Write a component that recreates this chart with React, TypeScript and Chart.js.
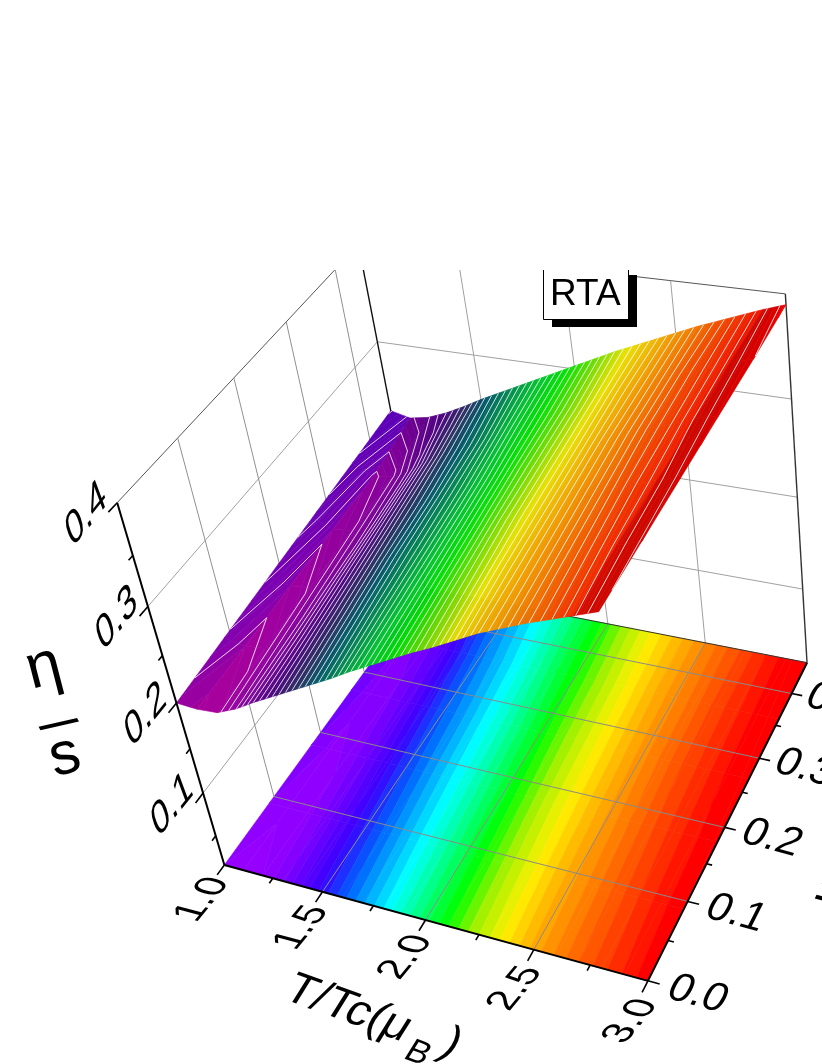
import React, { useEffect, useRef } from "react";
import { Chart, registerables } from "chart.js";

Chart.register(...registerables);

// ---------- data ----------
const tempGrid = [1.0, 1.1, 1.2, 1.3, 1.4, 1.5, 1.6, 1.7, 1.8, 1.9, 2.0, 2.1, 2.2, 2.3, 2.4, 2.5, 2.6, 2.7, 2.8, 2.9, 3.0];
const muGrid = [0, 0.09, 0.18, 0.27, 0.36, 0.45];
const etaMu0 = [0.2, 0.1985, 0.2, 0.209, 0.221, 0.232, 0.243, 0.254, 0.265, 0.277, 0.288, 0.299, 0.31, 0.32, 0.331, 0.342, 0.351, 0.36, 0.368, 0.376, 0.384];
const etaMu1 = [0.205, 0.2005, 0.203, 0.212, 0.224, 0.236, 0.247, 0.258, 0.269, 0.28, 0.291, 0.302, 0.313, 0.323, 0.334, 0.344, 0.353, 0.362, 0.37, 0.378, 0.385];
const etaMu2 = [0.21, 0.2035, 0.206, 0.215, 0.228, 0.24, 0.251, 0.262, 0.272, 0.283, 0.294, 0.305, 0.316, 0.326, 0.336, 0.346, 0.355, 0.364, 0.372, 0.379, 0.386];
const etaMu3 = [0.215, 0.2065, 0.209, 0.218, 0.232, 0.244, 0.254, 0.265, 0.275, 0.286, 0.297, 0.308, 0.318, 0.328, 0.338, 0.348, 0.357, 0.366, 0.373, 0.381, 0.387];
const etaMu4 = [0.22, 0.2085, 0.212, 0.222, 0.236, 0.248, 0.258, 0.268, 0.279, 0.29, 0.3, 0.31, 0.32, 0.33, 0.34, 0.349, 0.358, 0.367, 0.374, 0.382, 0.388];
const etaMu5 = [0.225, 0.22, 0.224, 0.232, 0.242, 0.253, 0.263, 0.273, 0.283, 0.293, 0.303, 0.313, 0.323, 0.332, 0.341, 0.35, 0.359, 0.367, 0.375, 0.383, 0.39];
const etaRows = [etaMu0, etaMu1, etaMu2, etaMu3, etaMu4, etaMu5];

const tempTicks = [1, 1.5, 2, 2.5, 3];
const tempMinor = [1.25, 1.75, 2.25, 2.75];
const muTicks = [0, 0.1, 0.2, 0.3, 0.4];
const muMinor = [0.05, 0.15, 0.25, 0.35];
const zTicks = [0.1, 0.2, 0.3, 0.4];
const zMinor = [0.05, 0.15, 0.25, 0.35];
const zFloor = 0.015;
const muTop = 0.45;
const boxTitle = "RTA";

// rainbow of the projected contour map, by eta/s
const floorStops: [number, string][] = [
  [0.19, "#a000ff"], [0.205, "#8c00ff"], [0.23, "#3c00ff"], [0.245, "#0060ff"], [0.268, "#00ffff"], [0.28, "#00ffa0"],
  [0.299, "#00ff00"], [0.312, "#a0f000"], [0.326, "#fff000"], [0.34, "#ffb000"], [0.356, "#ff7000"], [0.37, "#ff3800"], [0.382, "#ff0000"],
];
// shaded rainbow of the surface, by eta/s
const surfaceStops: [number, string][] = [
  [0.198, "#aa009c"], [0.205, "#9a00a0"], [0.215, "#7c0098"], [0.23, "#4c0080"], [0.245, "#2a2a60"], [0.258, "#005a68"], [0.27, "#00884f"],
  [0.285, "#00c030"], [0.3, "#00e000"], [0.315, "#70dc00"], [0.33, "#e8e000"], [0.345, "#f0a800"], [0.36, "#f07000"], [0.375, "#f03000"], [0.385, "#ee0a00"], [0.392, "#e80000"],
];
// the slope that faces the light next to T/Tc = 1
const risingEdgeStops: [number, string][] = [[0.198, "#a0009c"], [0.205, "#8000b0"], [0.215, "#6a00b4"], [0.225, "#5a00b8"]];
// the slope that falls away next to T/Tc = 3
const fallingEdgeStops: [number, string][] = [[0.37, "#e81800"], [0.376, "#d81000"], [0.384, "#cc0500"], [0.387, "#d80000"], [0.39, "#f00000"]];

// ---------- camera: where box points of the 3D frame land ----------
const calibration: number[][] = [
  [1, 0, zFloor, 227, 867], [1.5, 0, zFloor, 324, 893], [2, 0, zFloor, 427, 921], [2.5, 0, zFloor, 534, 951], [3, 0, zFloor, 648, 980],
  [3, 0.1, zFloor, 687, 902], [3, 0.2, zFloor, 724, 828], [3, 0.3, zFloor, 759, 759], [3, 0.4, zFloor, 790, 694], [3, 0.45, zFloor, 805, 663],
  [1, 0.1, zFloor, 277, 799], [1, 0.2, zFloor, 323, 735],
  [1, 0, 0.1, 202, 793], [1, 0, 0.2, 175, 698], [1, 0, 0.3, 147, 607], [1, 0, 0.4, 117, 508],
  [1, 0, 0.1, 202, 793], [1, 0, 0.2, 175, 698], [1, 0, 0.3, 147, 607],
  [1, 0, 0.2, 175, 698], [1, 0, 0.2, 175, 698],
  [3, 0.45, 0.2, 797, 493], [3, 0.45, 0.3, 792, 398], [3, 0.45, 0.4, 787, 296],
  [1, 0.45, 0.3, 377, 340], [2.5, 0.45, zFloor, 704, 643], [2, 0.45, zFloor, 608, 626],
  [1, 0.1, 0.4, 178, 442], [1, 0.2, 0.4, 233, 380], [1, 0.3, 0.4, 286, 323], [1, 0.4, 0.4, 335, 270],
  [2.5, 0.45, 0.4, 673, 283], [2.5, 0.45, 0.2, 690, 476], [1.5, 0.45, 0.3, 474, 353], [3, 0, 0.4, 598, 593],
];

function norm(T: number, mu: number, z: number) {
  return [(T - 1) / 2, mu / muTop, z / 0.4, 1];
}

function solveCamera(): number[] {
  const n = 11;
  const A = Array.from({ length: n }, () => new Array(n + 1).fill(0));
  const add = (row: number[], rhs: number) => {
    for (let i = 0; i < n; i++) {
      for (let j = 0; j < n; j++) A[i][j] += row[i] * row[j];
      A[i][n] += row[i] * rhs;
    }
  };
  for (const [T, mu, z, px, py] of calibration) {
    const p = norm(T, mu, z);
    const x = px / 1000, y = py / 1000;
    add([p[0], p[1], p[2], 1, 0, 0, 0, 0, -x * p[0], -x * p[1], -x * p[2]], x);
    add([0, 0, 0, 0, p[0], p[1], p[2], 1, -y * p[0], -y * p[1], -y * p[2]], y);
  }
  for (let c = 0; c < n; c++) {
    let piv = c;
    for (let r = c + 1; r < n; r++) if (Math.abs(A[r][c]) > Math.abs(A[piv][c])) piv = r;
    [A[c], A[piv]] = [A[piv], A[c]];
    for (let r = 0; r < n; r++) {
      if (r === c) continue;
      const f = A[r][c] / A[c][c];
      for (let k = c; k <= n; k++) A[r][k] -= f * A[c][k];
    }
  }
  return A.map((row, i) => row[n] / row[i]);
}
const cam = solveCamera();

function project(T: number, mu: number, z: number) {
  const p = norm(T, mu, z);
  const w = cam[8] * p[0] + cam[9] * p[1] + cam[10] * p[2] + 1;
  return {
    x: (1000 * (cam[0] * p[0] + cam[1] * p[1] + cam[2] * p[2] + cam[3])) / w,
    y: (1000 * (cam[4] * p[0] + cam[5] * p[1] + cam[6] * p[2] + cam[7])) / w,
  };
}

// ---------- helpers ----------
function hexRgb(h: string) {
  return [parseInt(h.slice(1, 3), 16), parseInt(h.slice(3, 5), 16), parseInt(h.slice(5, 7), 16)];
}
function colorAt(stops: [number, string][], z: number) {
  if (z <= stops[0][0]) return stops[0][1];
  for (let i = 1; i < stops.length; i++) {
    if (z <= stops[i][0]) {
      const f = (z - stops[i - 1][0]) / (stops[i][0] - stops[i - 1][0]);
      const a = hexRgb(stops[i - 1][1]), b = hexRgb(stops[i][1]);
      return `rgb(${a.map((v, k) => Math.round(v + (b[k] - v) * f)).join(",")})`;
    }
  }
  return stops[stops.length - 1][1];
}

type V = [number, number, number];
function clipBelow(poly: V[], level: number, keepAbove: boolean): V[] {
  const out: V[] = [];
  for (let i = 0; i < poly.length; i++) {
    const a = poly[i], b = poly[(i + 1) % poly.length];
    const ia = keepAbove ? a[2] >= level : a[2] <= level;
    const ib = keepAbove ? b[2] >= level : b[2] <= level;
    if (ia) out.push(a);
    if (ia !== ib) {
      const f = (level - a[2]) / (b[2] - a[2]);
      out.push([a[0] + (b[0] - a[0]) * f, a[1] + (b[1] - a[1]) * f, level]);
    }
  }
  return out;
}
function cells(fromCol = 0, toCol = tempGrid.length - 1): V[][] {
  const list: V[][] = [];
  for (let m = 0; m < muGrid.length - 1; m++) {
    for (let t = fromCol; t < toCol; t++) {
      list.push([
        [tempGrid[t], muGrid[m], etaRows[m][t]],
        [tempGrid[t + 1], muGrid[m], etaRows[m][t + 1]],
        [tempGrid[t + 1], muGrid[m + 1], etaRows[m + 1][t + 1]],
        [tempGrid[t], muGrid[m + 1], etaRows[m + 1][t]],
      ]);
    }
  }
  return list;
}
const gap = { x: NaN, y: NaN };
// a solid "dash": keeps Chart.js on its exact path instead of the x-sorted fast path
const exactPath = [100000, 1];

function bandDatasets(step: number, start: number, stops: [number, string][], flat: boolean, all: V[][]) {
  const out: any[] = [];
  for (let lo = start; lo < 0.4; lo += step) {
    const hi = lo + step;
    const pts: any[] = [];
    for (const c of all) {
      const poly = clipBelow(clipBelow(c, lo, true), hi, false);
      if (poly.length < 3) continue;
      const mapped = poly.map((v) => project(v[0], v[1], flat ? zFloor : v[2]));
      pts.push(...mapped, mapped[0], gap);
    }
    if (!pts.length) continue;
    const col = colorAt(stops, lo + step / 2);
    out.push({ data: pts, showLine: true, pointRadius: 0, fill: "shape", backgroundColor: col, borderColor: col, borderWidth: 0.6, borderDash: exactPath, tension: 0 });
  }
  return out;
}

function contourDatasets(step: number, start: number) {
  const out: any[] = [];
  const all = cells();
  for (let L = start; L < 0.4; L += step) {
    const pts: any[] = [];
    for (const c of all) {
      const cross: V[] = [];
      for (let i = 0; i < 4; i++) {
        const a = c[i], b = c[(i + 1) % 4];
        if (a[2] < L !== b[2] < L) {
          const f = (L - a[2]) / (b[2] - a[2]);
          cross.push([a[0] + (b[0] - a[0]) * f, a[1] + (b[1] - a[1]) * f, L]);
        }
      }
      for (let i = 0; i + 1 < cross.length; i += 2) {
        pts.push(project(...cross[i]), project(...cross[i + 1]), gap);
      }
    }
    if (pts.length) out.push(lineSet(pts, "rgba(255,255,255,0.9)", 0.9));
  }
  return out;
}

function lineSet(data: any[], color: string, width: number) {
  return {
    data, showLine: true, pointRadius: 0, fill: false, borderColor: color, borderWidth: width, borderDash: exactPath, tension: 0,
    clip: { left: 0, right: 0, bottom: 0, top: -270 },
  };
}
const seg = (a: number[], b: number[]) => [project(a[0], a[1], a[2]), project(b[0], b[1], b[2])];

function buildDatasets() {
  const sets: any[] = [];
  const wall = "#a0a0a0";
  const lastCol = tempGrid.length - 1;
  // walls
  for (const z of zTicks) {
    const col = z === 0.4 ? "#555555" : wall;
    sets.push(lineSet(seg([1, 0, z], [1, muTop, z]), col, 1));
    sets.push(lineSet(seg([1, muTop, z], [3, muTop, z]), col, 1));
  }
  for (const m of muTicks.slice(1)) sets.push(lineSet(seg([1, m, zFloor], [1, m, 0.4]), "#909090", 1));
  for (const t of tempTicks.slice(1, 4)) sets.push(lineSet(seg([t, muTop, zFloor], [t, muTop, 0.4]), wall, 1));
  sets.push(lineSet(seg([1, muTop, zFloor], [1, muTop, 0.4]), "#111111", 1.4));
  sets.push(lineSet(seg([3, muTop, zFloor], [3, muTop, 0.4]), "#333333", 1.4));
  // floor
  sets.push(...bandDatasets(0.005, 0.185, floorStops, true, cells()));
  for (const t of tempTicks.slice(1, 4)) sets.push(lineSet(seg([t, 0, zFloor], [t, muTop, zFloor]), "#8a8a8a", 1));
  for (const m of muTicks.slice(1)) sets.push(lineSet(seg([1, m, zFloor], [3, m, zFloor]), "#8a8a8a", 1));
  sets.push(lineSet(seg([1, muTop, zFloor], [3, muTop, zFloor]), "#333333", 1));
  // surface
  sets.push(...bandDatasets(0.0015, 0.19, risingEdgeStops, false, cells(0, 1)));
  sets.push(...bandDatasets(0.0015, 0.19, surfaceStops, false, cells(1, lastCol - 1)));
  sets.push(...bandDatasets(0.0015, 0.19, fallingEdgeStops, false, cells(lastCol - 1, lastCol)));
  sets.push(...contourDatasets(0.0038, 0.1943));
  // axes and ticks
  sets.push(lineSet(seg([1, 0, zFloor], [3, 0, zFloor]), "#000000", 2));
  sets.push(lineSet(seg([3, 0, zFloor], [3, muTop, zFloor]), "#000000", 2));
  sets.push(lineSet(seg([1, 0, zFloor], [1, 0, 0.4]), "#000000", 2));
  for (const t of tempTicks) sets.push(lineSet(seg([t, 0, zFloor], [t, -0.014, zFloor]), "#000000", 1.6));
  for (const t of tempMinor) sets.push(lineSet(seg([t, 0, zFloor], [t, -0.007, zFloor]), "#000000", 1.6));
  for (const m of muTicks) sets.push(lineSet(seg([3, m, zFloor], [3.05, m, zFloor]), "#000000", 1.6));
  for (const m of muMinor) sets.push(lineSet(seg([3, m, zFloor], [3.025, m, zFloor]), "#000000", 1.6));
  for (const z of zTicks) sets.push(lineSet(seg([1, 0, z], [1, -0.014, z]), "#000000", 1.6));
  for (const z of zMinor) sets.push(lineSet(seg([1, 0, z], [1, -0.007, z]), "#000000", 1.6));
  return sets.reverse(); // the first dataset is painted last
}

// ---------- text ----------
type Basis = { b: number[]; u: number[] };
const onFloorT: Basis = { b: [0.62, -0.75], u: [-0.97, -0.26] };
const onFloorMu: Basis = { b: [0.96, 0.26], u: [0.45, -0.89] };
const onWallZ: Basis = { b: [0.62, -0.78], u: [-0.35, -0.94] };
const titleBasis: Basis = { b: [0.94, 0.34], u: [0.53, -0.85] };
const tickFont = '42px "Liberation Sans"';
const tempFont = '40px "Liberation Sans"';

function putText(chart: any, text: string, x: number, y: number, basis: Basis, font: string, align: CanvasTextAlign = "center", base: CanvasTextBaseline = "middle") {
  const ctx: CanvasRenderingContext2D = chart.ctx;
  const px = chart.scales.x.getPixelForValue(x), py = chart.scales.y.getPixelForValue(y);
  ctx.save();
  ctx.transform(basis.b[0], basis.b[1], -basis.u[0], -basis.u[1], px, py);
  ctx.font = font;
  ctx.fillStyle = "#000";
  ctx.textAlign = align;
  ctx.textBaseline = base;
  ctx.fillText(text, 0, 0);
  ctx.restore();
}

const textPlugin = {
  id: "frameText",
  afterDatasetsDraw(chart: any) {
    const ctx: CanvasRenderingContext2D = chart.ctx;
    for (const t of tempTicks) {
      const p = project(t, -0.048, zFloor);
      putText(chart, t.toFixed(1), p.x + 3, p.y, onFloorT, tempFont);
    }
    for (const m of muTicks) {
      const p = project(3.21, m, zFloor);
      putText(chart, m.toFixed(1), p.x, p.y, onFloorMu, tickFont);
    }
    for (const z of zTicks) {
      const p = project(1, 0, z);
      putText(chart, z.toFixed(1), p.x - 31, p.y + 12, onWallZ, tickFont);
    }
    // axis titles
    const titleFont = '46px "Liberation Sans"';
    const sx = titleBasis.b;
    const tx = 281, ty = 998;
    const ctxW = (s: string, f: string) => { ctx.save(); ctx.font = f; const w = ctx.measureText(s).width; ctx.restore(); return w; };
    putText(chart, "T/Tc(\u03bc", tx, ty, titleBasis, titleFont, "left", "alphabetic");
    const w1 = ctxW("T/Tc(\u03bc", titleFont);
    const subFont = '34px "Liberation Sans"';
    putText(chart, "B", tx + sx[0] * w1 + 0, ty + sx[1] * w1 + 16, titleBasis, subFont, "left", "alphabetic");
    const w2 = w1 + ctxW("B", subFont);
    putText(chart, ")", tx + sx[0] * w2 + 14, ty + sx[1] * w2 + 3, titleBasis, titleFont, "left", "alphabetic");

    const up15: Basis = { b: [0.97, -0.25], u: [-0.25, -0.97] };
    putText(chart, "\u03b7", 44, 668, up15, '62px "Liberation Sans"');
    putText(chart, "/", 55, 726, { b: [0.47, 0.88], u: [0.88, -0.47] }, '52px "Liberation Sans"');
    putText(chart, "s", 65, 757, up15, '60px "Liberation Sans"');
    const sideBasis: Basis = { b: [0.42, -0.9], u: [-0.97, -0.26] };
    putText(chart, "\u03bc", 838, 908, sideBasis, '48px "Liberation Sans"', "left", "alphabetic");
    putText(chart, "B", 857, 862, sideBasis, '48px "Liberation Sans"', "left", "alphabetic");

    // boxed label with drop shadow
    const X = (v: number) => chart.scales.x.getPixelForValue(v);
    const Y = (v: number) => chart.scales.y.getPixelForValue(v);
    ctx.save();
    ctx.fillStyle = "#000";
    ctx.fillRect(X(552), Y(275), 85, 52);
    ctx.fillStyle = "#fff";
    ctx.fillRect(X(543), Y(262), 85, 57);
    ctx.restore();
    ctx.save();
    ctx.strokeStyle = "#000";
    ctx.lineWidth = 1;
    ctx.beginPath();
    ctx.moveTo(X(543.5), Y(270));
    ctx.lineTo(X(543.5), Y(319.5));
    ctx.lineTo(X(628.5), Y(319.5));
    ctx.lineTo(X(628.5), Y(270));
    ctx.stroke();
    ctx.fillStyle = "#000";
    ctx.font = '37px "Liberation Sans"';
    ctx.textAlign = "left";
    ctx.textBaseline = "alphabetic";
    ctx.fillText(boxTitle, X(550), Y(305));
    ctx.restore();
    // nothing of the figure shows above the clipped top of the frame
    ctx.save();
    ctx.fillStyle = "#fff";
    ctx.fillRect(0, 0, 822, 270);
    ctx.restore();
  },
};

export default function App() {
  const ref = useRef<HTMLCanvasElement | null>(null);
  useEffect(() => {
    if (!ref.current) return;
    const chart = new Chart(ref.current, {
      type: "scatter",
      data: { datasets: buildDatasets() },
      options: {
        animation: false,
        responsive: false,
        layout: { padding: 0 },
        events: [],
        plugins: { legend: { display: false }, tooltip: { enabled: false } },
        scales: {
          x: { type: "linear", min: 0, max: 822, display: false },
          y: { type: "linear", min: 0, max: 1064, reverse: true, display: false },
        },
      },
      plugins: [textPlugin],
    } as any);
    return () => chart.destroy();
  }, []);
  return (
    <div style={{ position: "absolute", left: 0, top: 0, width: 822, height: 1064, background: "#fff" }}>
      <canvas ref={ref} width={822} height={1064} style={{ display: "block" }} />
    </div>
  );
}
